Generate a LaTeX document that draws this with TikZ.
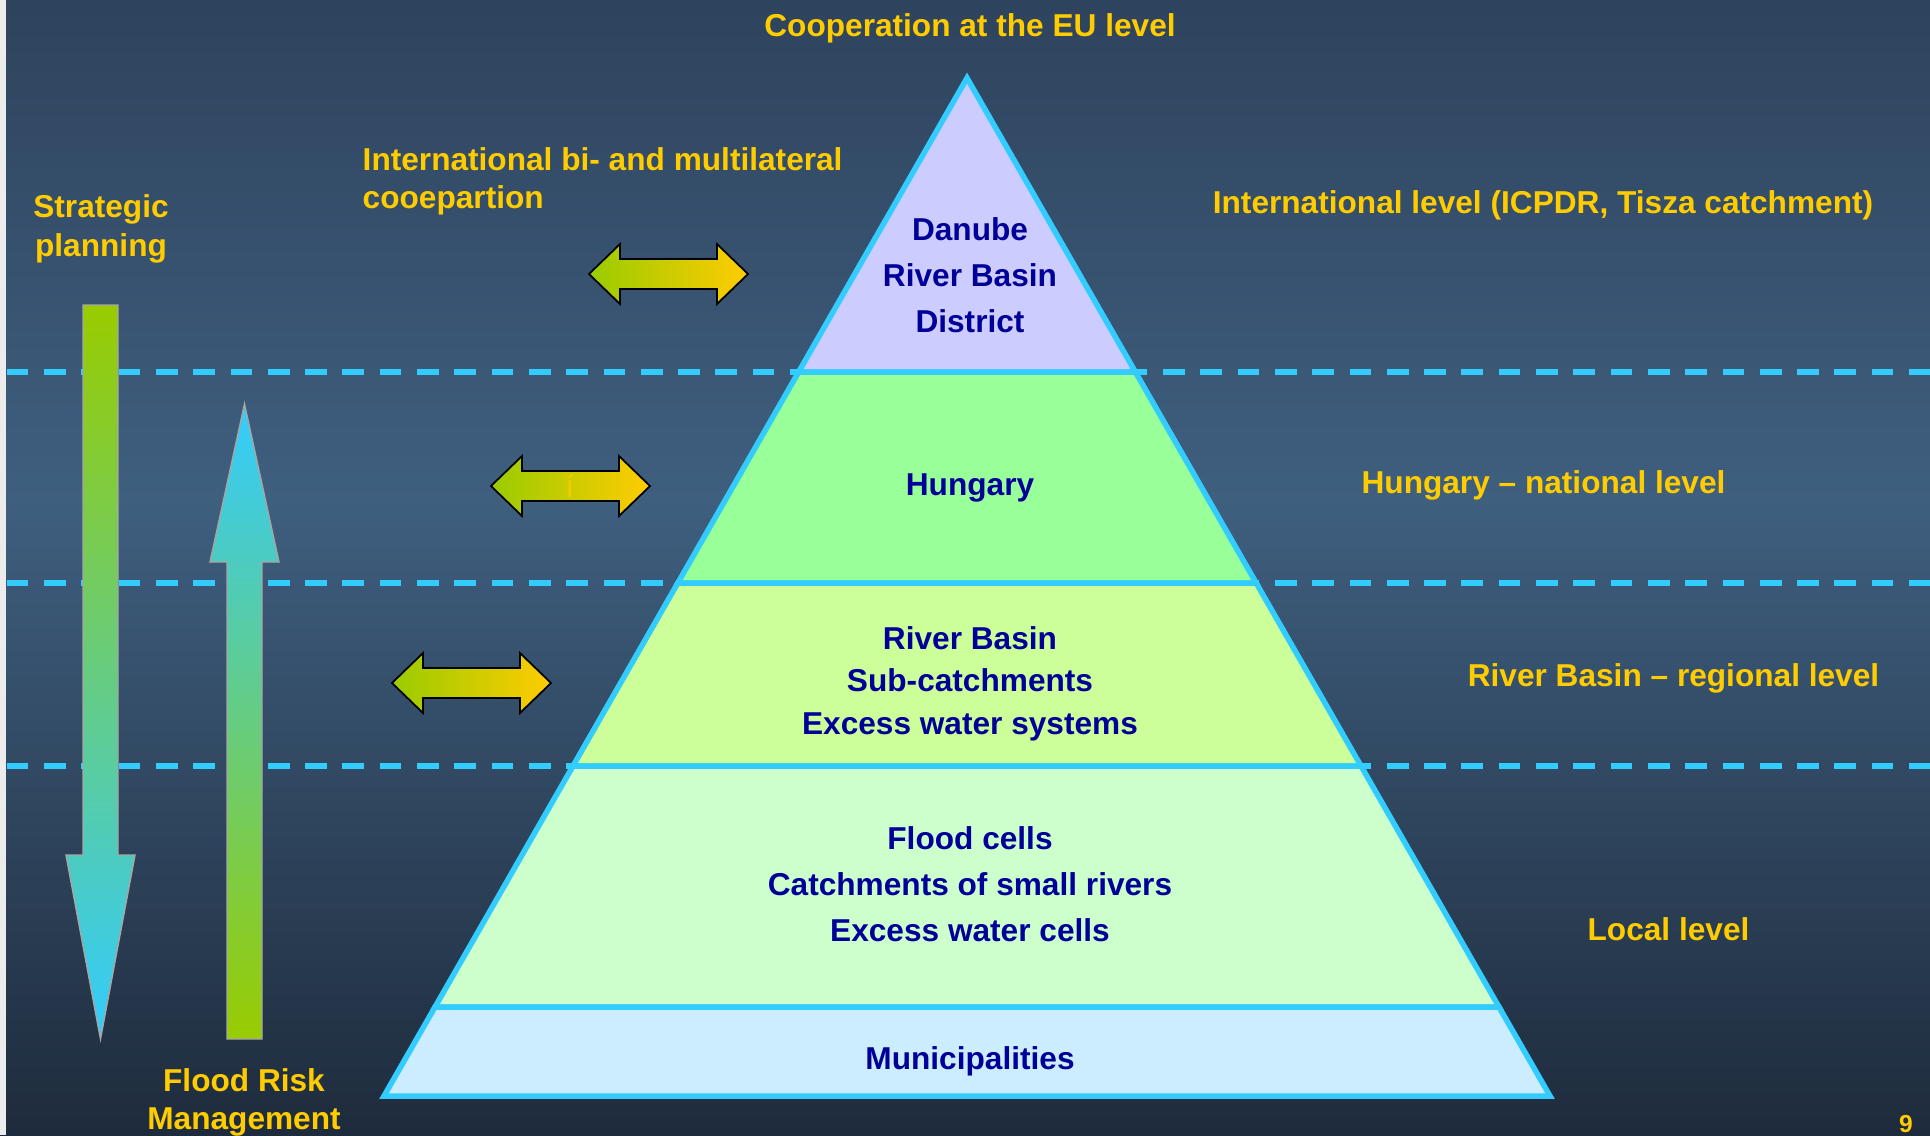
\documentclass[tikz,border=0pt]{standalone}
\usepackage{fontspec}
\setmainfont{Liberation Sans}
\definecolor{bgtop}{RGB}{46,67,93}
\definecolor{bgmid}{RGB}{63,95,127}
\definecolor{bgbot}{RGB}{30,43,60}
\definecolor{skyline}{RGB}{51,204,255}
\definecolor{labelgold}{RGB}{255,204,0}
\definecolor{levelnavy}{RGB}{0,0,153}
\definecolor{leafgreen}{RGB}{153,204,0}
\definecolor{lvlone}{RGB}{204,204,255}
\definecolor{lvltwo}{RGB}{153,255,153}
\definecolor{lvlthree}{RGB}{204,255,153}
\definecolor{lvlfour}{RGB}{204,255,204}
\definecolor{lvlfive}{RGB}{204,236,255}

% double arrow: left tip x, centre y
\newcommand{\twoway}[2]{%
  \shadedraw[twowayarrow] (#1,#2) -- ++(31,-30) -- ++(0,15) -- ++(97,0) -- ++(0,-15)
    -- ++(31,30) -- ++(-31,30) -- ++(0,-15) -- ++(-97,0) -- ++(0,15) -- cycle;}

\begin{document}
\begin{tikzpicture}[x=0.1mm, y=-0.1mm,
    goldtext/.style={text=labelgold, inner sep=0pt, align=center, font=\bfseries\fontsize{9}{10.8}\selectfont},
    leveltext/.style={text=levelnavy, inner sep=0pt, align=center, font=\bfseries\fontsize{9}{13.1}\selectfont},
    level/.style={draw=skyline, line width=0.55mm},
    border/.style={skyline, line width=0.55mm, dash pattern=on 2.17mm off 1.56mm},
    twowayarrow/.style={left color=leafgreen, right color=labelgold, draw=black, line width=0.5pt},
    downarrow/.style={top color=leafgreen, bottom color=skyline, draw=gray!70, line width=0.4pt},
    uparrow/.style={top color=skyline, bottom color=leafgreen, draw=gray!70, line width=0.4pt}]
  \useasboundingbox (0,0) rectangle (1930,1135);

  % background
  \shade[top color=bgtop, bottom color=bgmid] (0,0) rectangle (1930,500);
  \shade[top color=bgmid, bottom color=bgbot] (0,499) rectangle (1930,1135);
  \fill[gray!15] (0,0) rectangle (6,1135);

  % level borders
  \draw[border] (6.7,372) -- (1930,372);
  \draw[border] (6.7,583) -- (1930,583);
  \draw[border] (6.7,766) -- (1930,766);

  % pyramid
  \coordinate (apex) at (967,78);
  \coordinate (l1) at (798.6,372);  \coordinate (r1) at (1135.4,372);
  \coordinate (l2) at (677.8,583);  \coordinate (r2) at (1256.2,583);
  \coordinate (l3) at (573,766);    \coordinate (r3) at (1361,766);
  \coordinate (l4) at (435,1007);   \coordinate (r4) at (1499,1007);
  \coordinate (l5) at (384,1096);   \coordinate (r5) at (1550,1096);
  \filldraw[level, fill=lvlone] (apex) -- (r1) -- (l1) -- cycle;
  \filldraw[level, fill=lvltwo] (l1) -- (r1) -- (r2) -- (l2) -- cycle;
  \filldraw[level, fill=lvlthree] (l2) -- (r2) -- (r3) -- (l3) -- cycle;
  \filldraw[level, fill=lvlfour] (l3) -- (r3) -- (r4) -- (l4) -- cycle;
  \filldraw[level, fill=lvlfive] (l4) -- (r4) -- (r5) -- (l5) -- cycle;

  \node[leveltext] (danube) at (970,275.4) {Danube\\River Basin\\District};
  \node[leveltext, anchor=base] (hungary) at (970,495) {Hungary};
  \node[leveltext, font=\bfseries\fontsize{9}{12.1}\selectfont] (basin) at (970,683.4)
    {River Basin\\Sub-catchments\\Excess water systems};
  \node[leveltext] (floodcells) at (970,884.6)
    {Flood cells\\Catchments of small rivers\\Excess water cells};
  \node[leveltext, anchor=base] (municipalities) at (970,1069) {Municipalities};

  % planning and risk management arrows
  \shadedraw[downarrow] (83,305) -- (118,305) -- (118,855) -- (135,855) -- (100.5,1039)
    -- (66,855) -- (83,855) -- cycle;
  \shadedraw[uparrow] (227,1039) -- (262,1039) -- (262,562) -- (279,562) -- (244.5,404)
    -- (210,562) -- (227,562) -- cycle;

  % cooperation arrows
  \twoway{589}{274}
  \twoway{491}{486}
  \twoway{392}{683}
  \node[text=labelgold!85!leafgreen, inner sep=0pt, font=\fontsize{9}{10}\selectfont, anchor=base]
    (mark) at (570,497) {í};

  % labels
  \node[goldtext, anchor=base] (eu) at (970,36) {Cooperation at the EU level};
  \node[goldtext, align=left, anchor=west] (bilateral) at (362,180.9)
    {International bi- and multilateral\\cooepartion};
  \node[goldtext, font=\bfseries\fontsize{9}{11.1}\selectfont] (strategic) at (101,228.4) {Strategic\\planning};
  \node[goldtext] (floodrisk) at (244,1101.9) {Flood Risk\\Management};
  \node[goldtext, anchor=base] (intl) at (1543,213) {International level (ICPDR, Tisza catchment)};
  \node[goldtext, anchor=base] (national) at (1543.5,493) {Hungary – national level};
  \node[goldtext, anchor=base] (regional) at (1673.5,686) {River Basin – regional level};
  \node[goldtext, anchor=base] (local) at (1668.5,940) {Local level};
  \node[goldtext, font=\bfseries\fontsize{7}{8}\selectfont, anchor=base] (page) at (1906,1132) {9};
\end{tikzpicture}
\end{document}
